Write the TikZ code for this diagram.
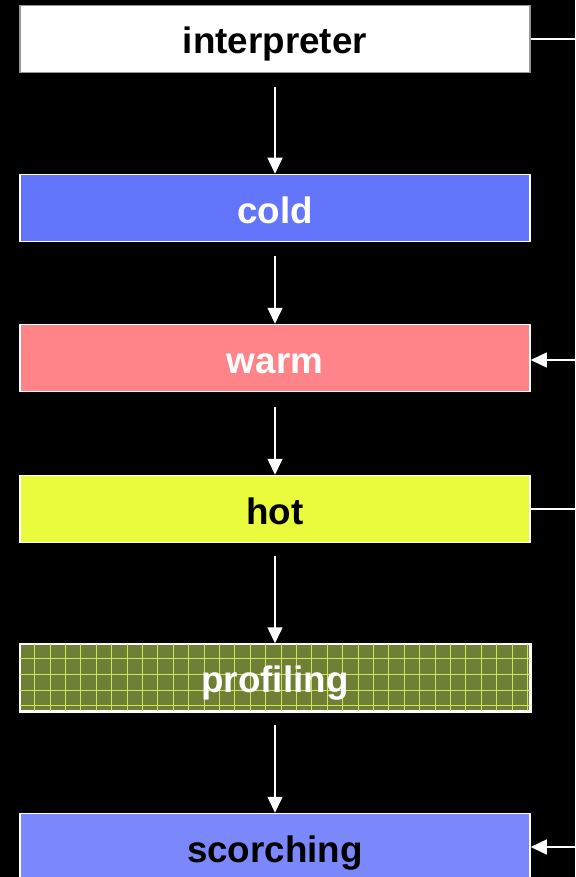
\documentclass[tikz,border=0pt]{standalone}
\usepackage{fontspec}
\setmainfont{Liberation Sans}
\usetikzlibrary{arrows.meta}
\definecolor{coldc}{RGB}{99,117,251}
\definecolor{warmc}{RGB}{255,132,137}
\definecolor{hotc}{RGB}{233,251,60}
\definecolor{profc}{RGB}{111,127,53}
\definecolor{gridc}{RGB}{200,232,90}
\definecolor{scorchc}{RGB}{123,136,251}
\definecolor{edgec}{RGB}{150,150,150}
\begin{document}
\begin{tikzpicture}[x=1pt,y=-1pt,
  labelfont/.style={font=\fontsize{36.8}{40}\selectfont\bfseries,text height=30pt,text depth=0pt},
  stage/.style={draw=white,line width=1.5pt,minimum width=510pt,minimum height=67pt,
    inner sep=0pt,labelfont},
  flow/.style={draw=white,line width=1.5pt,-{Triangle[width=15pt,length=16pt]}},
  link/.style={draw=white,line width=1.5pt}]
\fill[black] (0,0) rectangle (575,877);
\useasboundingbox (0,0) rectangle (575,877);

\node[stage,fill=white,draw=edgec,text=black] (interp) at (275,39) {interpreter};
\node[stage,fill=coldc,text=white] (cold) at (275,208) {cold};
\node[stage,fill=warmc,text=white] (warm) at (275,358) {warm};
\node[stage,fill=hotc,text=black] (hot) at (275,509) {hot};
\node[stage,fill=profc] (prof) at (275,677.5) {};
\begin{scope}
  \clip (prof.north west) rectangle (prof.south east);
  \foreach \i in {1,...,33}
    \draw[gridc,line width=1pt] ([xshift=\i*15.4pt]prof.north west) -- ([xshift=\i*15.4pt]prof.south west);
  \foreach \j in {1,...,4}
    \draw[gridc,line width=1pt] ([yshift=-\j*15.6pt]prof.north west) -- ([yshift=-\j*15.6pt]prof.north east);
\end{scope}
\draw[white,line width=1.5pt] (prof.north west) rectangle (prof.south east);
\node[labelfont,inner sep=0pt,text=white] (proflabel) at (prof.center) {profiling};
\node[stage,fill=scorchc,text=black] (scorch) at (275,847) {scorching};

\coordinate (a1) at (275,87);
\coordinate (a2) at (275,256);
\coordinate (a3) at (275,407);
\coordinate (a4) at (275,556);
\coordinate (a5) at (275,725);
\draw[flow] (a1) -- (cold.north);
\draw[flow] (a2) -- (warm.north);
\draw[flow] (a3) -- (hot.north);
\draw[flow] (a4) -- (prof.north);
\draw[flow] (a5) -- (scorch.north);

\coordinate (r1) at (575,39);
\coordinate (r2) at (575,360);
\coordinate (r3) at (575,509);
\coordinate (r4) at (575,847);
\draw[link] (interp.east) -- (r1);
\draw[flow] (r2) -- (warm.east |- r2);
\draw[link] (hot.east) -- (r3);
\draw[flow] (r4) -- (scorch.east);
\end{tikzpicture}
\end{document}
